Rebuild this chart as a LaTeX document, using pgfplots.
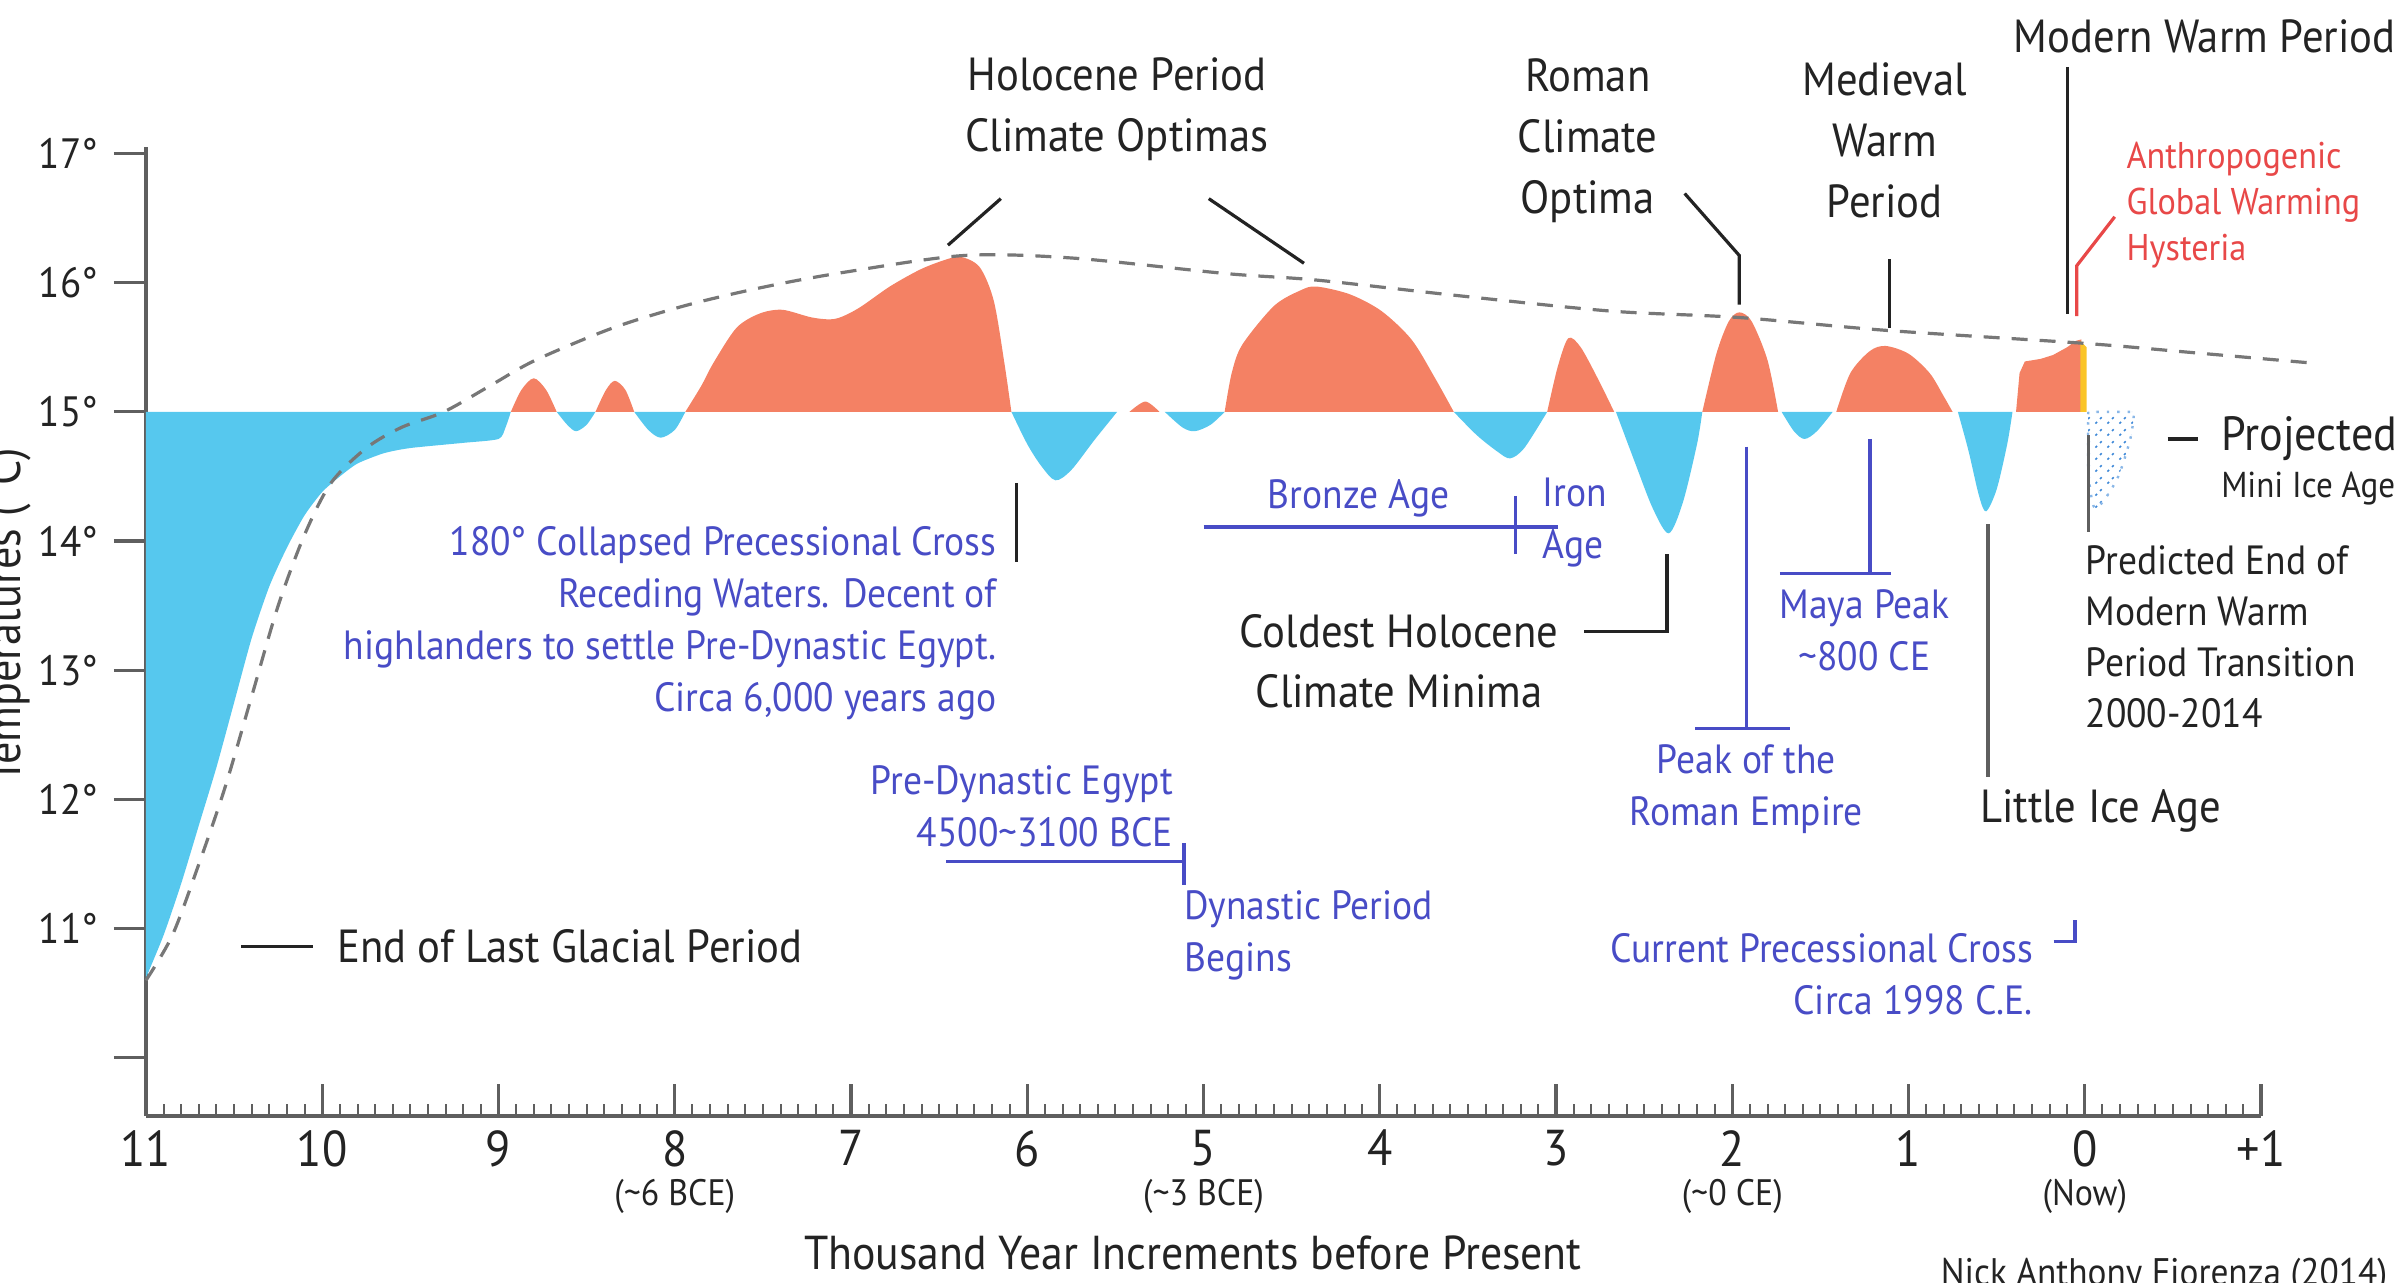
\documentclass[border=0pt]{standalone}
\usepackage{fontspec}
\setmainfont{PT Sans}[FakeStretch=0.92]
\usepackage{pgfplots}
\pgfplotsset{compat=1.18}
\usetikzlibrary{patterns}
\definecolor{salmon}{RGB}{244,129,100}
\definecolor{icecyan}{RGB}{86,200,238}
\definecolor{annblue}{RGB}{72,76,198}
\definecolor{annred}{RGB}{232,72,72}
\definecolor{ink}{RGB}{35,35,35}
\definecolor{axisgray}{RGB}{95,95,95}
\definecolor{hatchblue}{RGB}{60,135,215}
\definecolor{modyellow}{RGB}{250,196,40}
\newcommand\fbig{\fontsize{11.6}{15.2}\selectfont}
\newcommand\fblue{\fontsize{10.2}{13}\selectfont}
\newcommand\fsmall{\fontsize{10.2}{12.7}\selectfont}
\newcommand\fred{\fontsize{9.3}{11.5}\selectfont}
\begin{document}
\begin{tikzpicture}
\useasboundingbox (-36.5pt,-41.75pt) rectangle (565.25pt,279pt);
\begin{axis}[
  at={(0pt,0pt)}, anchor=south west,
  scale only axis, width=528.75pt, height=242.25pt,
  xmin=-11, xmax=1, ymin=9.55, ymax=17.05,
  clip=false,
  axis x line=bottom, axis y line=left,
  axis line style={-, line width=1.1pt, axisgray},
  tick align=inside,
  major tick length=8pt, minor tick length=3pt,
  xtick={-11,-10,...,1},
  xticklabels={11,10,9,8,7,6,5,4,3,2,1,0,+1},
  minor x tick num=9,
  ytick={10,11,...,17},
  yticklabels={,11°,12°,13°,14°,15°,16°,17°},
  every tick/.style={axisgray, line width=0.8pt},
  every minor tick/.style={axisgray, line width=0.5pt},
  ytick style={xshift=-8pt},
  xticklabel style={font=\fontsize{12.6}{13}\selectfont, text=ink},
  yticklabel style={font=\fontsize{10.6}{11}\selectfont, text=ink, xshift=-8.5pt},
  xlabel={Thousand Year Increments before Present},
  xlabel style={at={(axis cs:-5.06,8.49)}, anchor=center, font=\fontsize{11.9}{12}\selectfont, text=ink},
  ylabel={Temperatures (°C)},
  ylabel style={at={(axis cs:-11.71,13.42)}, anchor=base, font=\fontsize{12}{12}\selectfont, text=ink},
]
% ---- temperature lobes: cold (below 15) ----
\addplot[draw=none, fill=icecyan, smooth, tension=0.4] coordinates {
 (-11.0,10.62) (-10.9,10.95) (-10.8,11.35) (-10.7,11.8) (-10.6,12.25) (-10.5,12.75)
 (-10.4,13.25) (-10.3,13.65) (-10.2,13.95) (-10.1,14.2) (-10.0,14.38) (-9.9,14.5)
 (-9.8,14.6) (-9.65,14.68) (-9.5,14.72) (-9.2,14.76) (-9.0,14.79) (-8.96,14.88) (-8.93,15.0)}
 -- (axis cs:-11,15) -- cycle;
\addplot[draw=none, fill=icecyan, smooth] coordinates {(-8.67,15) (-8.61,14.9) (-8.56,14.85) (-8.50,14.9) (-8.45,15)} -- cycle;
\addplot[draw=none, fill=icecyan, smooth] coordinates {(-8.23,15) (-8.15,14.86) (-8.08,14.80) (-8.00,14.86) (-7.94,15)} -- cycle;
\addplot[draw=none, fill=icecyan, smooth] coordinates {(-6.09,15) (-6.0,14.75) (-5.92,14.58) (-5.84,14.47) (-5.75,14.55) (-5.62,14.78) (-5.49,15)} -- cycle;
\addplot[draw=none, fill=icecyan, smooth] coordinates {(-5.22,15) (-5.12,14.88) (-5.05,14.85) (-4.96,14.9) (-4.88,15)} -- cycle;
\addplot[draw=none, fill=icecyan, smooth] coordinates {(-3.58,15) (-3.45,14.82) (-3.33,14.69) (-3.26,14.64) (-3.18,14.72) (-3.05,15)} -- cycle;
\addplot[draw=none, fill=icecyan, smooth] coordinates {(-2.66,15) (-2.55,14.6) (-2.45,14.25) (-2.36,14.06) (-2.28,14.3) (-2.2,14.75) (-2.17,15)} -- cycle;
\addplot[draw=none, fill=icecyan, smooth] coordinates {(-1.72,15) (-1.65,14.85) (-1.59,14.79) (-1.52,14.85) (-1.43,15)} -- cycle;
\addplot[draw=none, fill=icecyan, smooth] coordinates {(-0.72,15) (-0.66,14.7) (-0.60,14.35) (-0.56,14.23) (-0.50,14.4) (-0.44,14.75) (-0.41,15)} -- cycle;
% ---- warm (above 15) ----
\addplot[draw=none, fill=salmon, smooth] coordinates {(-8.93,15) (-8.87,15.17) (-8.80,15.26) (-8.73,15.17) (-8.67,15)} -- cycle;
\addplot[draw=none, fill=salmon, smooth] coordinates {(-8.45,15) (-8.39,15.17) (-8.34,15.24) (-8.28,15.17) (-8.23,15)} -- cycle;
\addplot[draw=none, fill=salmon, smooth] coordinates {(-7.94,15) (-7.85,15.2) (-7.78,15.38) (-7.65,15.65) (-7.52,15.76) (-7.39,15.79)
 (-7.22,15.73) (-7.09,15.72) (-6.96,15.80) (-6.78,15.97) (-6.61,16.10) (-6.48,16.17) (-6.38,16.20) (-6.27,16.12)
 (-6.19,15.86) (-6.13,15.38) (-6.09,15.0)} -- cycle;
\addplot[draw=none, fill=salmon, smooth] coordinates {(-5.42,15) (-5.33,15.08) (-5.25,15)} -- cycle;
\addplot[draw=none, fill=salmon, smooth] coordinates {(-4.88,15) (-4.84,15.3) (-4.78,15.52) (-4.6,15.82) (-4.45,15.94) (-4.36,15.97)
 (-4.17,15.91) (-3.99,15.78) (-3.82,15.56) (-3.69,15.27) (-3.58,15)} -- cycle;
\addplot[draw=none, fill=salmon, smooth] coordinates {(-3.05,15) (-2.99,15.35) (-2.93,15.57) (-2.86,15.5) (-2.76,15.25) (-2.67,15)} -- cycle;
\addplot[draw=none, fill=salmon, smooth] coordinates {(-2.17,15) (-2.09,15.45) (-2.02,15.7) (-1.96,15.77) (-1.89,15.7) (-1.8,15.4) (-1.74,15)} -- cycle;
\addplot[draw=none, fill=salmon, smooth] coordinates {(-1.41,15) (-1.33,15.3) (-1.22,15.47) (-1.13,15.51) (-1.0,15.45) (-0.88,15.3) (-0.80,15.12) (-0.75,15)} -- cycle;
\addplot[draw=none, fill=salmon] coordinates {(-0.39,15) (-0.37,15.3) (-0.34,15.39) (-0.25,15.41) (-0.18,15.44) (-0.10,15.5) (-0.05,15.55) (-0.02,15.56) (-0.02,15)} -- cycle;
\addplot[draw=none, fill=modyellow] coordinates {(-0.025,15) (-0.025,15.55) (0.01,15.5) (0.01,15)} -- cycle;
% ---- projected mini ice age ----
\addplot[draw=hatchblue!60, dotted, line width=0.6pt, pattern=north east lines, pattern color=hatchblue, smooth] coordinates {
 (0.02,15) (0.02,14.55) (0.05,14.27) (0.1,14.3) (0.19,14.5) (0.26,14.8) (0.28,15)} -- cycle;
% ---- trend (dashed) ----
\addplot[draw=axisgray!85, line width=0.8pt, dash pattern=on 4pt off 3pt, smooth] coordinates {
 (-11.0,10.6) (-10.85,10.95) (-10.7,11.5) (-10.55,12.1) (-10.4,12.8) (-10.25,13.5) (-10.1,14.05)
 (-9.95,14.45) (-9.75,14.72) (-9.55,14.88) (-9.31,15.0) (-9.05,15.2) (-8.79,15.4) (-8.35,15.65)
 (-7.92,15.83) (-7.48,15.97) (-7.04,16.08) (-6.36,16.21) (-5.74,16.19) (-4.87,16.07) (-4.36,16.02)
 (-3.56,15.9) (-2.69,15.78) (-1.96,15.73) (-1.12,15.63) (0.0,15.53) (0.6,15.46) (1.27,15.38)};
% ---- annotation lines ----
\draw[ink, line width=0.8pt] (axis cs:-6.45,16.29) -- (axis cs:-6.15,16.65);
\draw[ink, line width=0.8pt] (axis cs:-4.97,16.65) -- (axis cs:-4.43,16.15);
\draw[ink, line width=0.8pt] (axis cs:-2.27,16.69) -- (axis cs:-1.96,16.21) -- (axis cs:-1.96,15.83);
\draw[ink, line width=0.8pt] (axis cs:-1.11,16.18) -- (axis cs:-1.11,15.65);
\draw[ink, line width=0.8pt] (axis cs:-0.10,17.67) -- (axis cs:-0.10,15.76);
\draw[annred, line width=0.8pt] (axis cs:-0.046,15.74) -- (axis cs:-0.046,16.13) -- (axis cs:0.17,16.51);
\draw[ink, line width=0.8pt] (axis cs:0.47,14.79) -- (axis cs:0.64,14.79);
\draw[axisgray, line width=0.9pt] (axis cs:0.02,14.82) -- (axis cs:0.02,14.07);
\draw[axisgray, line width=0.9pt] (axis cs:-0.55,14.13) -- (axis cs:-0.55,12.17);
\draw[annblue, line width=0.9pt] (axis cs:-1.22,14.79) -- (axis cs:-1.22,13.75);
\draw[annblue, line width=0.9pt] (axis cs:-1.73,13.75) -- (axis cs:-1.10,13.75);
\draw[annblue, line width=0.9pt] (axis cs:-1.92,14.73) -- (axis cs:-1.92,12.55);
\draw[annblue, line width=0.9pt] (axis cs:-2.21,12.55) -- (axis cs:-1.67,12.55);
\draw[ink, line width=0.8pt] (axis cs:-2.84,13.3) -- (axis cs:-2.37,13.3) -- (axis cs:-2.37,13.9);
\draw[annblue, line width=0.9pt] (axis cs:-5.0,14.11) -- (axis cs:-2.99,14.11);
\draw[annblue, line width=0.9pt] (axis cs:-3.23,14.35) -- (axis cs:-3.23,13.9);
\draw[ink, line width=0.8pt] (axis cs:-6.06,14.45) -- (axis cs:-6.06,13.84);
\draw[annblue, line width=0.9pt] (axis cs:-6.46,11.52) -- (axis cs:-5.11,11.52);
\draw[annblue, line width=0.9pt] (axis cs:-5.11,11.66) -- (axis cs:-5.11,11.34);
\draw[annblue, line width=0.9pt] (axis cs:-0.177,10.90) -- (axis cs:-0.054,10.90) -- (axis cs:-0.054,11.07);
\draw[ink, line width=0.8pt] (axis cs:-10.46,10.86) -- (axis cs:-10.05,10.86);
% ---- texts ----
\node[font=\fbig, text=ink, align=center] at (axis cs:-5.49,17.34) {Holocene Period\\Climate Optimas};
\node[font=\fbig, text=ink, align=center] at (axis cs:-2.82,17.10) {Roman\\Climate\\Optima};
\node[font=\fbig, text=ink, align=center] at (axis cs:-1.135,17.10) {Medieval\\Warm\\Period};
\node[font=\fbig, text=ink] at (axis cs:0.68,17.91) {Modern Warm Period};
\node[font=\fred, text=annred, align=left, anchor=west, inner sep=0pt] at (axis cs:0.233,16.60) {Anthropogenic\\Global Warming\\Hysteria};
\node[font=\fontsize{12}{13}\selectfont, text=ink, anchor=west, inner sep=0pt] at (axis cs:0.77,14.79) {Projected};
\node[font=\fontsize{9}{10}\selectfont, text=ink, anchor=west, inner sep=0pt] at (axis cs:0.77,14.41) {Mini Ice Age};
\node[font=\fsmall, text=ink, align=left, anchor=west, inner sep=0pt] at (axis cs:0.0,13.26) {Predicted End of\\Modern Warm\\Period Transition\\2000-2014};
\node[font=\fbig, text=ink] at (axis cs:0.089,11.91) {Little Ice Age};
\node[font=\fblue, text=annblue, align=center] at (axis cs:-1.25,13.31) {Maya Peak\\\textasciitilde800 CE};
\node[font=\fblue, text=annblue, align=center] at (axis cs:-1.92,12.08) {Peak of the\\Roman Empire};
\node[font=\fbig, text=ink, align=center] at (axis cs:-3.89,13.07) {Coldest Holocene\\Climate Minima};
\node[font=\fblue, text=annblue] at (axis cs:-4.12,14.33) {Bronze Age};
\node[font=\fblue, text=annblue, align=left, anchor=west, inner sep=0pt] at (axis cs:-3.08,14.14) {Iron\\Age};
\node[font=\fblue, text=annblue, align=right, anchor=east, inner sep=0pt] at (axis cs:-6.17,13.36) {180° Collapsed Precessional Cross\\Receding Waters. Decent of\\highlanders to settle Pre-Dynastic Egypt.\\Circa 6,000 years ago};
\node[font=\fblue, text=annblue, align=right, anchor=east, inner sep=0pt] at (axis cs:-5.17,11.95) {Pre-Dynastic Egypt\\4500\textasciitilde3100 BCE};
\node[font=\fblue, text=annblue, align=left, anchor=west, inner sep=0pt] at (axis cs:-5.11,10.95) {Dynastic Period\\Begins};
\node[font=\fblue, text=annblue, align=right, anchor=east, inner sep=0pt] at (axis cs:-0.29,10.65) {Current Precessional Cross\\Circa 1998 C.E.};
\node[font=\fbig, text=ink, anchor=west, inner sep=0pt] at (axis cs:-9.92,10.86) {End of Last Glacial Period};
\node[font=\fontsize{9.6}{10}\selectfont, text=ink] at (axis cs:0.45,8.31) {Nick Anthony Fiorenza (2014)};
\node[font=\fontsize{9.2}{10}\selectfont, text=ink] at (axis cs:-8,8.93) {(\textasciitilde6 BCE)};
\node[font=\fontsize{9.2}{10}\selectfont, text=ink] at (axis cs:-5,8.93) {(\textasciitilde3 BCE)};
\node[font=\fontsize{9.2}{10}\selectfont, text=ink] at (axis cs:-2,8.93) {(\textasciitilde0 CE)};
\node[font=\fontsize{9.2}{10}\selectfont, text=ink] at (axis cs:0,8.93) {(Now)};
\end{axis}
\end{tikzpicture}
\end{document}
